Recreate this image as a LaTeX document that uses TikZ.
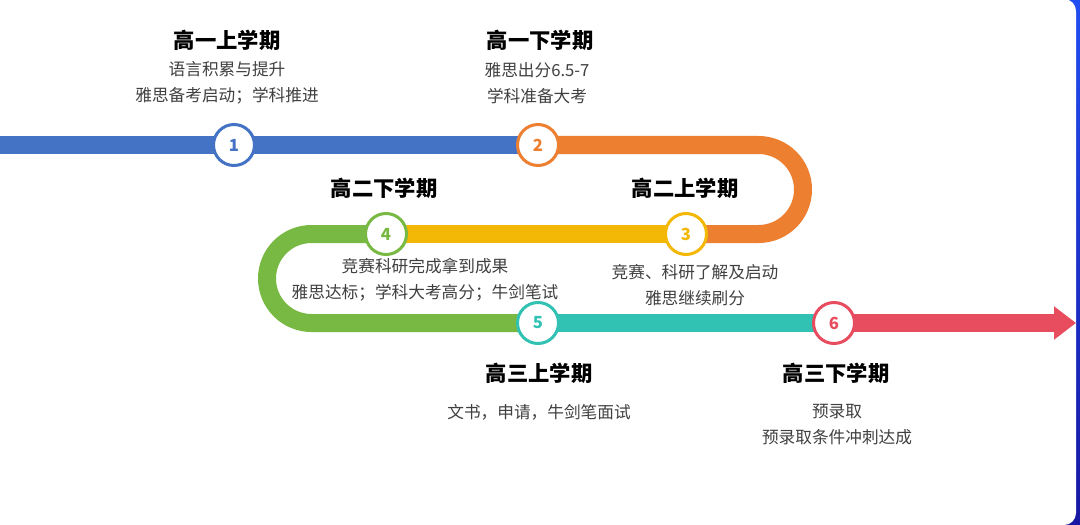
\documentclass[tikz,border=0pt]{standalone}
\usepackage{fontspec}
\newfontfamily\cjk{Noto Sans CJK SC}
\usetikzlibrary{arrows.meta,backgrounds}
\definecolor{cblue}{HTML}{4472C4}
\definecolor{corange}{HTML}{ED7F31}
\definecolor{cyellow}{HTML}{F3B806}
\definecolor{cgreen}{HTML}{78B943}
\definecolor{cteal}{HTML}{31C2B3}
\definecolor{cred}{HTML}{E84D5F}
\definecolor{textgray}{HTML}{404040}
\definecolor{frametop}{HTML}{1F4DF2}
\definecolor{framebot}{HTML}{1717A3}
\begin{document}
\begin{tikzpicture}[x=0.75pt,y=-0.75pt,
  stage/.style={circle, draw=#1, fill=white, line width=2.25pt, minimum size=30.75pt,
    inner sep=0pt, text=#1, font=\cjk\bfseries\fontsize{12.5}{14}\selectfont},
  track/.style={draw=#1, line width=13.5pt},
  head/.style={font=\cjk\bfseries\fontsize{16}{18}\selectfont},
  note/.style={font=\cjk\fontsize{12.5}{19.5}\selectfont, text=textgray, align=center}]
\useasboundingbox (0,0) rectangle (1080,524);
\node[stage=cblue] (c1) at (234,145) {1};
\node[stage=corange] (c2) at (538,145) {2};
\node[stage=cyellow] (c3) at (686,234) {3};
\node[stage=cgreen] (c4) at (386,234) {4};
\node[stage=cteal] (c5) at (538,323) {5};
\node[stage=cred] (c6) at (834,323) {6};
\coordinate (start) at (-10,145);
\coordinate (tip) at (1076,323);

\node[head] (h1) at (227,40) {高一上学期};
\node[note] (t1) at (227,83) {语言积累与提升\\雅思备考启动；学科推进};
\node[head] (h2) at (540,40) {高一下学期};
\node[note] (t2) at (537,83) {雅思出分6.5-7\\学科准备大考};
\node[head] (h3) at (685,188) {高二上学期};
\node[note] (t3) at (695,285) {竞赛、科研了解及启动\\雅思继续刷分};
\node[head] (h4) at (384,188) {高二下学期};
\node[note] (t4) at (425,280) {竞赛科研完成拿到成果\\雅思达标；学科大考高分；牛剑笔试};
\node[head] (h5) at (539,373) {高三上学期};
\node[note] (t5) at (539,412) {文书，申请，牛剑笔面试};
\node[head] (h6) at (836,373) {高三下学期};
\node[note] (t6) at (837,424.5) {预录取\\预录取条件冲刺达成};

\begin{scope}[on background layer]
\fill[top color=frametop, bottom color=framebot] (1050,0) rectangle (1080,524);
\fill[white, rounded corners=9pt] (-20,-1) rectangle (1076,525);
\draw[track=cblue] (start) -- (c1.center) -- (c2.center);
\draw[track=corange, rounded corners=33.375pt] (c2.center) -- (803,145) -- (803,234) -- (c3.center);
\draw[track=cyellow] (c3.center) -- (c4.center);
\draw[track=cgreen, rounded corners=33.375pt] (c4.center) -- (267,234) -- (267,323) -- (c5.center);
\draw[track=cteal] (c5.center) -- (c6.center);
\draw[track=cred, -{Triangle[length=16.5pt,width=24pt]}] (c6.center) -- (tip);
\end{scope}
\end{tikzpicture}
\end{document}
